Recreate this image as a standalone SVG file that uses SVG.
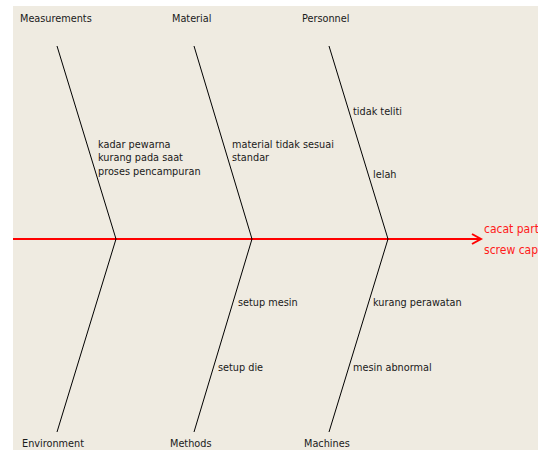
<svg xmlns="http://www.w3.org/2000/svg" width="538" height="450" viewBox="0 0 538 450">
<style>
.bone{fill:none;stroke:#000;stroke-width:1}
.t{font-family:"DejaVu Sans Condensed","Liberation Sans",sans-serif;font-size:10.8px;fill:#1a1a1a}
.r{fill:#ff1a1a;font-size:12px}
</style>
<defs>
<marker id="ah" markerWidth="12" markerHeight="12" refX="10" refY="6" orient="auto" markerUnits="userSpaceOnUse">
<path d="M1,1 L10,6 L1,11" fill="none" stroke="#ff0000" stroke-width="2"/>
</marker>
</defs>
<rect x="0" y="0" width="538" height="450" fill="#ffffff"/>
<rect x="13" y="6" width="525" height="444" fill="#efebe1"/>
<g id="connectors">
<line x1="13" y1="239" x2="481" y2="239" stroke="#ff0000" stroke-width="2" marker-end="url(#ah)"/>
<polyline class="bone" points="57,46 116,239 57,432"/>
<polyline class="bone" points="194,46 252,239 194,432"/>
<polyline class="bone" points="329,46 388,239 329,432"/>
</g>
<g id="effect"><text class="t r" x="484" y="233">cacat part</text><text class="t r" x="484" y="254">screw cap</text></g>
<g id="measurements"><text class="t" x="20" y="22">Measurements</text></g>
<g id="material"><text class="t" x="172" y="22">Material</text></g>
<g id="personnel"><text class="t" x="302" y="22">Personnel</text></g>
<g id="environment"><text class="t" x="22" y="447">Environment</text></g>
<g id="methods"><text class="t" x="170" y="447">Methods</text></g>
<g id="machines"><text class="t" x="304" y="447">Machines</text></g>
<g id="cause-kadar"><text class="t" x="98" y="148">kadar pewarna</text><text class="t" x="98" y="161">kurang pada saat</text><text class="t" x="98" y="175">proses pencampuran</text></g>
<g id="cause-material"><text class="t" x="232" y="148">material tidak sesuai</text><text class="t" x="232" y="161">standar</text></g>
<g id="cause-teliti"><text class="t" x="353" y="115">tidak teliti</text></g>
<g id="cause-lelah"><text class="t" x="373" y="178">lelah</text></g>
<g id="cause-setup-mesin"><text class="t" x="238" y="306">setup mesin</text></g>
<g id="cause-perawatan"><text class="t" x="373" y="306">kurang perawatan</text></g>
<g id="cause-setup-die"><text class="t" x="218" y="371">setup die</text></g>
<g id="cause-abnormal"><text class="t" x="353" y="371">mesin abnormal</text></g>
</svg>
